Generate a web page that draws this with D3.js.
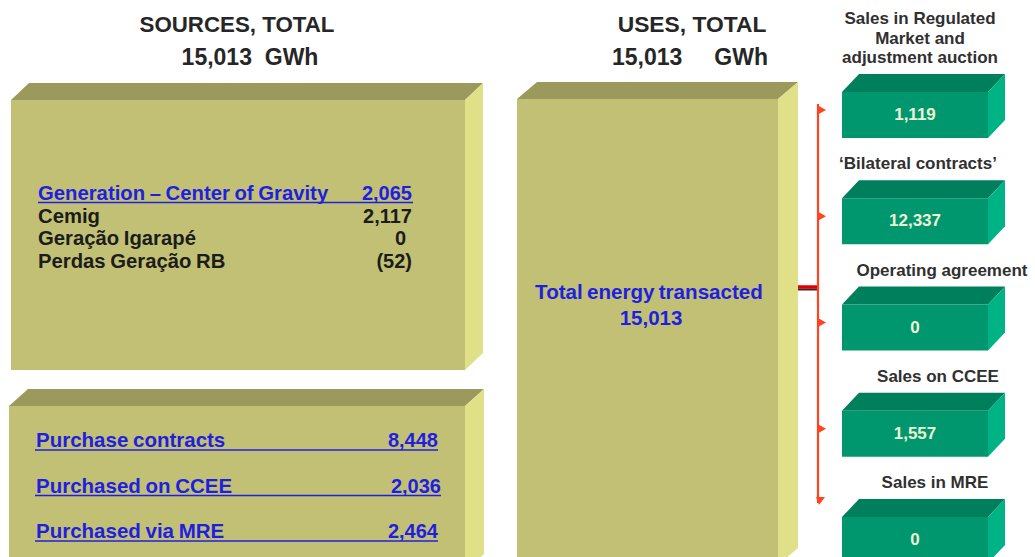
<!DOCTYPE html>
<html>
<head>
<meta charset="utf-8">
<script src="https://cdn.jsdelivr.net/npm/d3@7"></script>
<style>
  html, body { margin: 0; padding: 0; background: #ffffff; }
  svg { display: block; font-family: "Liberation Sans", Arial, sans-serif; }
</style>
</head>
<body>
<svg id="chart" width="1035" height="557"></svg>
<script>
// ---------------- data ----------------
const sourcesTitle = "SOURCES, TOTAL";
const usesTitle = "USES, TOTAL";
const totalSources = 15013;
const totalUses = 15013;
const unit = "GWh";

const generationHeader = "Generation – Center of Gravity";
const generationTotal = 2065;
const generationItems = ["Cemig", "Geração Igarapé", "Perdas Geração RB"];
const generationValues = [2117, 0, -52];

const purchaseLabels = ["Purchase contracts", "Purchased on CCEE", "Purchased via MRE"];
const purchaseValues = [8448, 2036, 2464];

const centerLabel = "Total energy transacted";
const centerValue = 15013;

const useLabels = [
  ["Sales in Regulated", "Market and", "adjustment auction"],
  ["‘Bilateral contracts’"],
  ["Operating agreement"],
  ["Sales on CCEE"],
  ["Sales in MRE"]
];
const useValues = [1119, 12337, 0, 1557, 0];

// ---------------- helpers ----------------
const svg = d3.select("#chart");
const fmtPos = d3.format(",");
const fmt = v => v < 0 ? "(" + fmtPos(-v) + ")" : fmtPos(v);

const olive = { front: "#c1c074", top: "#9b9a5c", side: "#e0e088" };
const green = { front: "#00976f", top: "#007f5d", side: "#00b385" };
const blue = "#1f1fe0";

function box3d(g, x, y, w, h, dx, dy, c) {
  g.append("polygon")
    .attr("points", [[x, y], [x + dx, y - dy], [x + w + dx, y - dy], [x + w, y]].join(" "))
    .attr("fill", c.top);
  g.append("polygon")
    .attr("points", [[x + w, y], [x + w + dx, y - dy], [x + w + dx, y + h - dy], [x + w, y + h]].join(" "))
    .attr("fill", c.side);
  g.append("rect").attr("x", x).attr("y", y).attr("width", w).attr("height", h).attr("fill", c.front);
}

// ---------------- titles ----------------
function title(x, y, txt, size) {
  svg.append("text")
    .attr("x", x).attr("y", y)
    .attr("text-anchor", "middle")
    .attr("font-size", size).attr("font-weight", "bold")
    .attr("fill", "#262626")
    .text(txt);
}
title(237, 32, sourcesTitle, 22.3);
title(250, 65, fmtPos(totalSources) + "\u00a0\u00a0" + unit, 23);
title(692, 32, usesTitle, 22.8);
title(690, 65, fmtPos(totalUses) + "\u00a0\u00a0\u00a0\u00a0\u00a0" + unit, 23);

// ---------------- left: generation box ----------------
const gGen = svg.append("g");
box3d(gGen, 11, 100, 454, 270, 18, 17, olive);

const genRows = [generationHeader].concat(generationItems);
const genVals = [generationTotal].concat(generationValues);
const yGen = d3.scalePoint().domain(genRows).range([200, 268]);

genRows.forEach((r, i) => {
  const isHead = i === 0;
  gGen.append("text")
    .attr("x", 38).attr("y", yGen(r))
    .attr("font-size", 20.3).attr("font-weight", "bold")
    .attr("fill", isHead ? blue : "#1c1c1c")
    .attr("word-spacing", -1)
    .text(r);
  gGen.append("text")
    .attr("x", i === 2 ? 406 : 412).attr("y", yGen(r))
    .attr("text-anchor", "end")
    .attr("font-size", 20).attr("font-weight", "bold")
    .attr("fill", isHead ? blue : "#1c1c1c")
    .text(fmt(genVals[i]));
  if (isHead) {
    gGen.append("line")
      .attr("x1", 38).attr("x2", 413)
      .attr("y1", yGen(r) + 2.5).attr("y2", yGen(r) + 2.5)
      .attr("stroke", blue).attr("stroke-width", 1.6);
  }
});

// ---------------- left: purchases box ----------------
const gPur = svg.append("g");
box3d(gPur, 9, 406, 456, 165, 19, 17, olive);
const yPur = d3.scalePoint().domain(purchaseLabels).range([447, 538]);
purchaseLabels.forEach((lab, i) => {
  const y = yPur(lab);
  const right = i === 1 ? 441 : 438;
  gPur.append("text")
    .attr("x", 36).attr("y", y)
    .attr("font-size", 20.5).attr("font-weight", "bold")
    .attr("fill", blue).attr("word-spacing", -1)
    .text(lab);
  gPur.append("text")
    .attr("x", right).attr("y", y)
    .attr("text-anchor", "end")
    .attr("font-size", 20).attr("font-weight", "bold")
    .attr("fill", blue)
    .text(fmtPos(purchaseValues[i]));
  gPur.append("line")
    .attr("x1", 35).attr("x2", right)
    .attr("y1", y + 3).attr("y2", y + 3)
    .attr("stroke", blue).attr("stroke-width", 1.6);
});

// ---------------- center box ----------------
const gMid = svg.append("g");
box3d(gMid, 517, 99, 261, 466, 20, 17, olive);
gMid.append("text")
  .attr("x", 649).attr("y", 299)
  .attr("text-anchor", "middle")
  .attr("font-size", 20.6).attr("font-weight", "bold")
  .attr("fill", blue).attr("word-spacing", -1.5)
  .text(centerLabel);
gMid.append("text")
  .attr("x", 651).attr("y", 325)
  .attr("text-anchor", "middle")
  .attr("font-size", 20.5).attr("font-weight", "bold")
  .attr("fill", blue)
  .text(fmtPos(centerValue));

// ---------------- connector ----------------
const lineX = 818, lineTop = 104, lineBottom = 503;
svg.append("line").attr("x1", 798).attr("x2", lineX).attr("y1", 289.5).attr("y2", 289.5)
  .attr("stroke", "#3a2a2a").attr("stroke-width", 2);
svg.append("line").attr("x1", 798).attr("x2", lineX).attr("y1", 287).attr("y2", 287)
  .attr("stroke", "#e00000").attr("stroke-width", 3.5);
svg.append("line").attr("x1", lineX).attr("x2", lineX).attr("y1", lineTop).attr("y2", lineBottom)
  .attr("stroke", "#ff4422").attr("stroke-width", 2.2);

// ---------------- right: uses boxes ----------------
const useKeys = useLabels.map(d => d.join(" "));
const yUse = d3.scalePoint().domain(useKeys).range([92, 517]);
const labelShift = [-6, -8, 16, 12, 9];
const gUse = svg.append("g");

useKeys.forEach((k, i) => {
  const top = yUse(k);
  const bx = 842, bw = 146, bh = 46;
  // arrow marker
  const ay = Math.min(top + 18, lineBottom);
  if (i === useKeys.length - 1) {
    gUse.append("polygon")
      .attr("points", [[lineX - 2, ay - 6], [lineX + 7, ay - 6], [lineX + 1, ay + 2]].join(" "))
      .attr("fill", "#ff4422");
  } else {
    gUse.append("polygon")
      .attr("points", [[lineX, ay - 4.5], [lineX + 8, ay], [lineX, ay + 4.5]].join(" "))
      .attr("fill", "#ff4422");
  }
  box3d(gUse, bx, top, bw, bh, 17, 18, green);
  gUse.append("text")
    .attr("x", bx + bw / 2).attr("y", top + 28)
    .attr("text-anchor", "middle")
    .attr("font-size", 17).attr("font-weight", "bold")
    .attr("fill", "#eef2d4")
    .text(fmtPos(useValues[i]));
  const lines = useLabels[i];
  lines.forEach((ln, j) => {
    gUse.append("text")
      .attr("x", 926 + labelShift[i])
      .attr("y", top - 29 - (lines.length - 1 - j) * 19.5)
      .attr("text-anchor", "middle")
      .attr("font-size", 17).attr("font-weight", "bold")
      .attr("fill", "#303030")
      .text(ln);
  });
});
</script>
</body>
</html>
